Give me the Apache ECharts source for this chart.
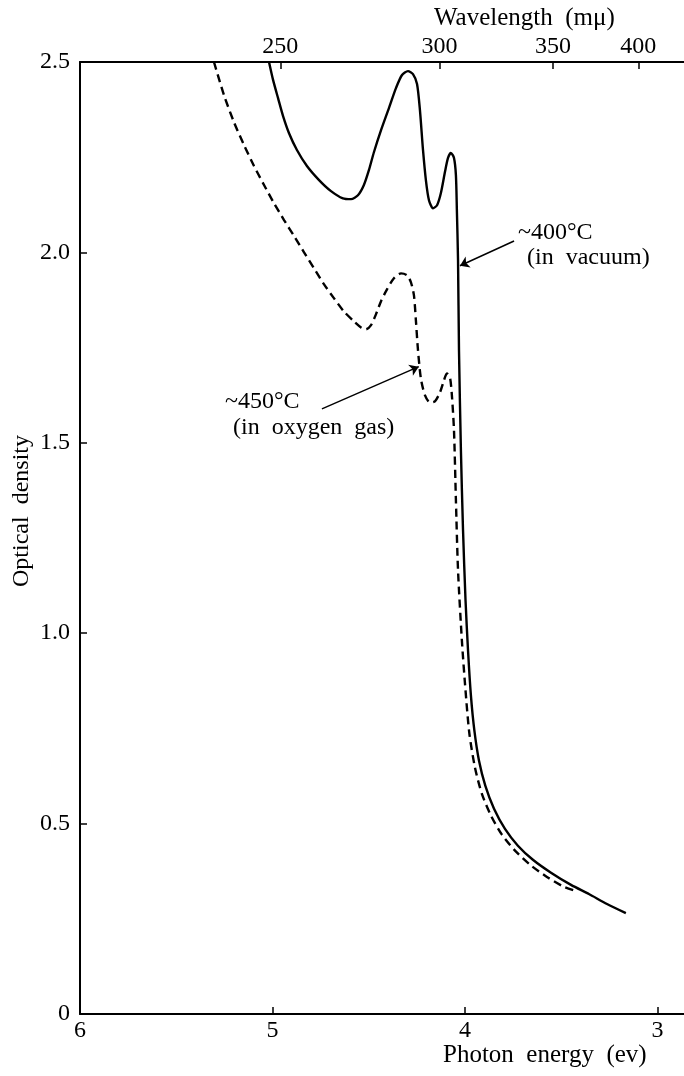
<!DOCTYPE html>
<html>
<head>
<meta charset="utf-8">
<script src="https://cdn.jsdelivr.net/npm/echarts@6/dist/echarts.min.js"></script>
<style>
  html, body { margin: 0; padding: 0; background: #fff; }
  #main { width: 684px; height: 1076px; }
</style>
</head>
<body>
<div id="main"></div>
<script>
// photon energy (ev) / optical density
var vacuumEnergy = [5.018, 4.997, 4.971, 4.945, 4.914, 4.873, 4.821, 4.758, 4.696, 4.634, 4.592,
  4.556, 4.525, 4.499, 4.473, 4.436, 4.395, 4.358, 4.327, 4.296, 4.27, 4.249, 4.234, 4.218, 4.203,
  4.187, 4.166, 4.145, 4.125, 4.104, 4.088, 4.073, 4.057, 4.047, 4.042, 4.036, 4.031, 4.021, 4.01,
  3.997, 3.984, 3.969, 3.951, 3.927, 3.894, 3.849, 3.792, 3.725, 3.647, 3.553, 3.449, 3.356, 3.262,
  3.164];
var vacuumOD = [2.5, 2.453, 2.405, 2.358, 2.313, 2.269, 2.227, 2.19, 2.161, 2.142, 2.14,
  2.15, 2.177, 2.216, 2.263, 2.321, 2.379, 2.432, 2.466, 2.476, 2.468, 2.442, 2.374, 2.269, 2.19,
  2.137, 2.116, 2.124, 2.156, 2.211, 2.248, 2.261, 2.248, 2.203, 2.111, 1.979, 1.743, 1.48, 1.27,
  1.086, 0.954, 0.836, 0.744, 0.665, 0.599, 0.539, 0.486, 0.442, 0.405, 0.371, 0.339, 0.315, 0.289,
  0.265];

var oxygenEnergy = [5.304, 5.252, 5.2, 5.148, 5.096, 5.044, 4.992, 4.94, 4.888, 4.836, 4.784,
  4.732, 4.681, 4.629, 4.577, 4.54, 4.514, 4.488, 4.462, 4.436, 4.405, 4.369, 4.332, 4.301, 4.281,
  4.265, 4.255, 4.244, 4.229, 4.208, 4.182, 4.156, 4.13, 4.109, 4.094, 4.078, 4.068, 4.057, 4.047,
  4.036, 4.016, 3.997, 3.977, 3.948, 3.912, 3.865, 3.808, 3.74, 3.662, 3.574, 3.486, 3.423];
var oxygenOD = [2.5, 2.413, 2.342, 2.282, 2.227, 2.177, 2.129, 2.085, 2.043, 2.0, 1.958,
  1.916, 1.88, 1.845, 1.819, 1.803, 1.798, 1.809, 1.838, 1.872, 1.903, 1.932, 1.945, 1.94, 1.922,
  1.887, 1.822, 1.743, 1.669, 1.625, 1.606, 1.609, 1.632, 1.664, 1.682, 1.672, 1.625, 1.533, 1.349,
  1.165, 0.981, 0.849, 0.736, 0.647, 0.578, 0.521, 0.471, 0.429, 0.392, 0.36, 0.334, 0.323];

var energyTicks = [3, 4, 5, 6];
var wavelengthTicks = [250, 300, 350, 400];
var odTicks = [0, 0.5, 1.0, 1.5, 2.0, 2.5];

var serif = '"Liberation Serif", "Times New Roman", serif';

function pairs(xs, ys) {
  return xs.map(function (x, i) { return [x, ys[i]]; });
}

var myChart = echarts.init(document.getElementById('main'));

var axisCommon = {
  type: 'value',
  min: 2.862,
  max: 6,
  inverse: true,
  splitLine: { show: false },
  axisLine: { show: true, onZero: false, lineStyle: { color: '#000', width: 2 } },
  axisTick: { show: true, inside: true, length: 7, lineStyle: { color: '#000', width: 1.5 } }
};

var arrow = {
  silent: true,
  symbol: ['none', 'arrow'],
  symbolSize: 9,
  label: { show: false },
  lineStyle: { color: '#000', width: 1.5, type: 'solid' }
};

myChart.setOption({
  animation: false,
  backgroundColor: '#fff',
  grid: { left: 80, right: 0, top: 62, bottom: 62 },
  xAxis: [
    echarts.util.merge({
      position: 'bottom',
      axisTick: { customValues: energyTicks },
      axisLabel: {
        customValues: energyTicks, margin: 5, color: '#000',
        fontFamily: serif, fontSize: 24
      }
    }, axisCommon),
    echarts.util.merge({
      position: 'top',
      axisTick: { customValues: wavelengthTicks.map(function (w) { return 1239.8 / w; }) },
      axisLabel: {
        customValues: wavelengthTicks.map(function (w) { return 1239.8 / w; }),
        formatter: function (v) { return String(Math.round(1239.8 / v)); },
        margin: 3, color: '#000', fontFamily: serif, fontSize: 24
      }
    }, axisCommon)
  ],
  yAxis: {
    type: 'value',
    min: odTicks[0],
    max: odTicks[odTicks.length - 1],
    interval: 0.5,
    splitLine: { show: false },
    axisLine: { show: true, lineStyle: { color: '#000', width: 2 } },
    axisTick: { show: true, inside: true, length: 7, lineStyle: { color: '#000', width: 1.5 } },
    axisLabel: {
      margin: 10, color: '#000', fontFamily: serif, fontSize: 24,
      formatter: function (v) { return v === 0 ? '0' : v.toFixed(1); }
    }
  },
  series: [
    {
      name: '~400°C (in vacuum)',
      type: 'line',
      data: pairs(vacuumEnergy, vacuumOD),
      showSymbol: false,
      smooth: 0.25,
      lineStyle: { color: '#000', width: 2.4 },
      markLine: echarts.util.merge({
        data: [[{ coord: [3.745, 2.03] }, { coord: [4.026, 1.965] }]]
      }, arrow)
    },
    {
      name: '~450°C (in oxygen gas)',
      type: 'line',
      data: pairs(oxygenEnergy, oxygenOD),
      showSymbol: false,
      smooth: 0.25,
      lineStyle: { color: '#000', width: 2.4, type: [8, 5] },
      markLine: echarts.util.merge({
        data: [[{ coord: [4.743, 1.589] }, { coord: [4.24, 1.7] }]]
      }, arrow)
    }
  ],
  graphic: [
    { type: 'text', style: { text: 'Wavelength  (mμ)', x: 434, y: 18, font: '25px ' + serif, fill: '#000', verticalAlign: 'middle' } },
    { type: 'text', style: { text: 'Photon  energy  (ev)', x: 443, y: 1055, font: '25px ' + serif, fill: '#000', verticalAlign: 'middle' } },
    { type: 'text', x: 22, y: 511, rotation: Math.PI / 2, style: { text: 'Optical  density', x: 0, y: 0, font: '24px ' + serif, fill: '#000', align: 'center', verticalAlign: 'middle' } },
    { type: 'text', style: { text: '~400°C', x: 518, y: 233, font: '24px ' + serif, fill: '#000', verticalAlign: 'middle' } },
    { type: 'text', style: { text: '(in  vacuum)', x: 527, y: 258, font: '24px ' + serif, fill: '#000', verticalAlign: 'middle' } },
    { type: 'text', style: { text: '~450°C', x: 225, y: 402, font: '24px ' + serif, fill: '#000', verticalAlign: 'middle' } },
    { type: 'text', style: { text: '(in  oxygen  gas)', x: 233, y: 428, font: '24px ' + serif, fill: '#000', verticalAlign: 'middle' } }
  ]
});
</script>
</body>
</html>
